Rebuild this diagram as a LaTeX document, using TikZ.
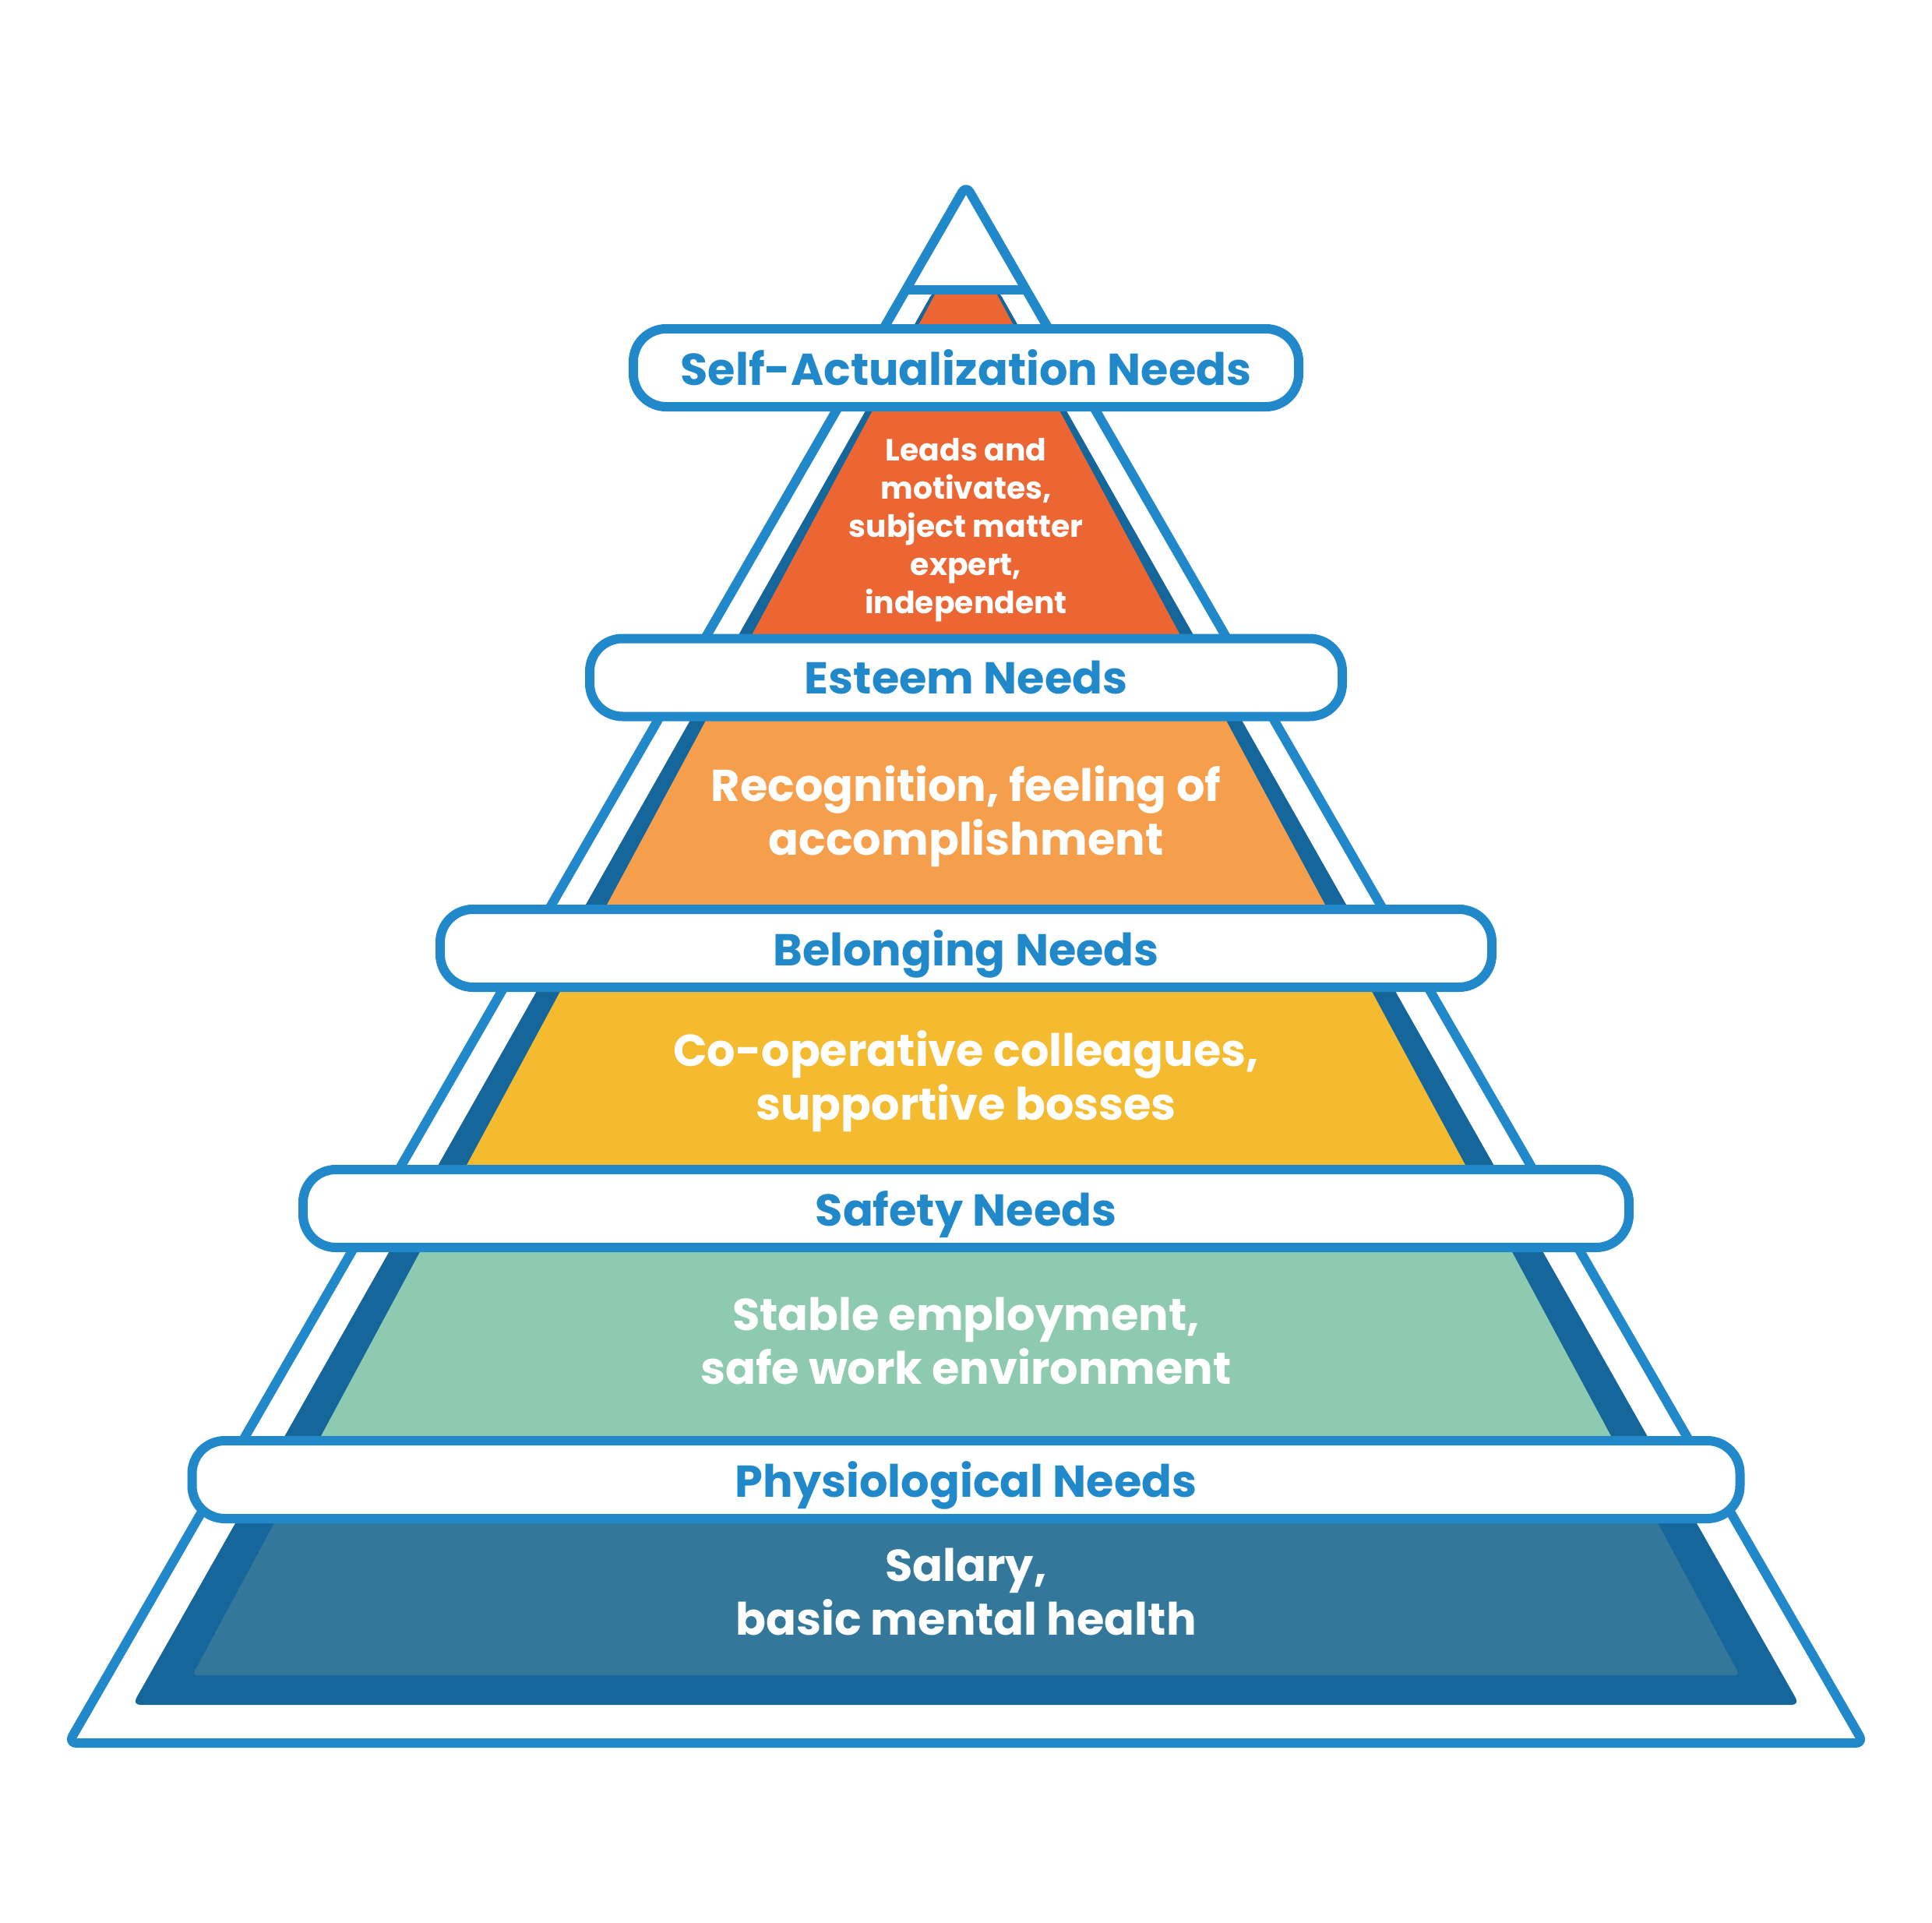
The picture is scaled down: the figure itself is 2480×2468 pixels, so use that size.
\documentclass[tikz,border=0pt]{standalone}
\usepackage{fontspec}
\setmainfont{Poppins}
\definecolor{lblue}{HTML}{2189C9}
\definecolor{dblue}{HTML}{15669A}
\definecolor{cself}{HTML}{EC6634}
\definecolor{cesteem}{HTML}{F59E4C}
\definecolor{cbelong}{HTML}{F4BA30}
\definecolor{csafety}{HTML}{8ECAAF}
\definecolor{cphys}{HTML}{33789B}
\begin{document}
\begin{tikzpicture}[x=0.3pt,y=-0.3pt,
  labelbox/.style={draw=lblue, line width=3.6pt, fill=white, rounded corners=12.6pt,
    minimum height=30pt, inner sep=0pt, text=lblue, text depth=0pt,
    font=\bfseries\fontsize{17.2}{20}\selectfont},
  layertext/.style={text=white, align=center, inner sep=0pt, text depth=0pt,
    font=\bfseries\fontsize{17.2}{20.7}\selectfont},
  toptext/.style={text=white, align=center, inner sep=0pt, text depth=0pt,
    font=\bfseries\fontsize{11.8}{14.7}\selectfont},
  outline/.style={draw=lblue, line width=3.6pt, line join=round}]
\useasboundingbox (0,0) rectangle (2480,2468);

% dark blue backing
\fill[dblue, rounded corners=3pt] (1199,372) -- (1281,372) -- (2310,2188) -- (170,2188) -- cycle;

% coloured layers
\fill[cself] (1203.4,372) -- (1276.6,372) -- (1544,869) -- (936,869) -- cycle;
\fill[cesteem] (936,869) -- (1544,869) -- (1731,1217) -- (749,1217) -- cycle;
\fill[cbelong] (749,1217) -- (1731,1217) -- (1911,1551) -- (569,1551) -- cycle;
\fill[csafety] (569,1551) -- (1911,1551) -- (2098,1899) -- (382,1899) -- cycle;
\fill[cphys, rounded corners=1.5pt] (382,1899) -- (2098,1899) -- (2233,2150) -- (247,2150) -- cycle;

% outer triangle and cap bar
\draw[outline, rounded corners=3pt] (1240,238) -- (2392,2237) -- (88,2237) -- cycle;
\draw[outline] (1163,372) -- (1317,372);

% label boxes
\node[labelbox, minimum width=256.2pt] (selfbox) at (1240,472) {Self-Actualization Needs};
\node[labelbox, minimum width=289.8pt] (esteembox) at (1240,869.5) {Esteem Needs};
\node[labelbox, minimum width=405pt] (belongbox) at (1240,1217) {Belonging Needs};
\node[labelbox, minimum width=510.6pt] (safetybox) at (1240,1551) {Safety Needs};
\node[labelbox, minimum width=596.1pt] (physbox) at (1240,1899) {Physiological Needs};

% layer texts
\node[toptext] (selftext) at (1240,675) {Leads and\\motivates,\\subject matter\\expert,\\independent};
\node[layertext] (esteemtext) at (1240,1040) {Recognition, feeling of\\accomplishment};
\node[layertext] (belongtext) at (1240,1380) {Co-operative colleagues,\\supportive bosses};
\node[layertext] (safetytext) at (1240,1721) {Stable employment,\\safe work environment};
\node[layertext] (phystext) at (1240,2043) {Salary,\\basic mental health};
\end{tikzpicture}
\end{document}
